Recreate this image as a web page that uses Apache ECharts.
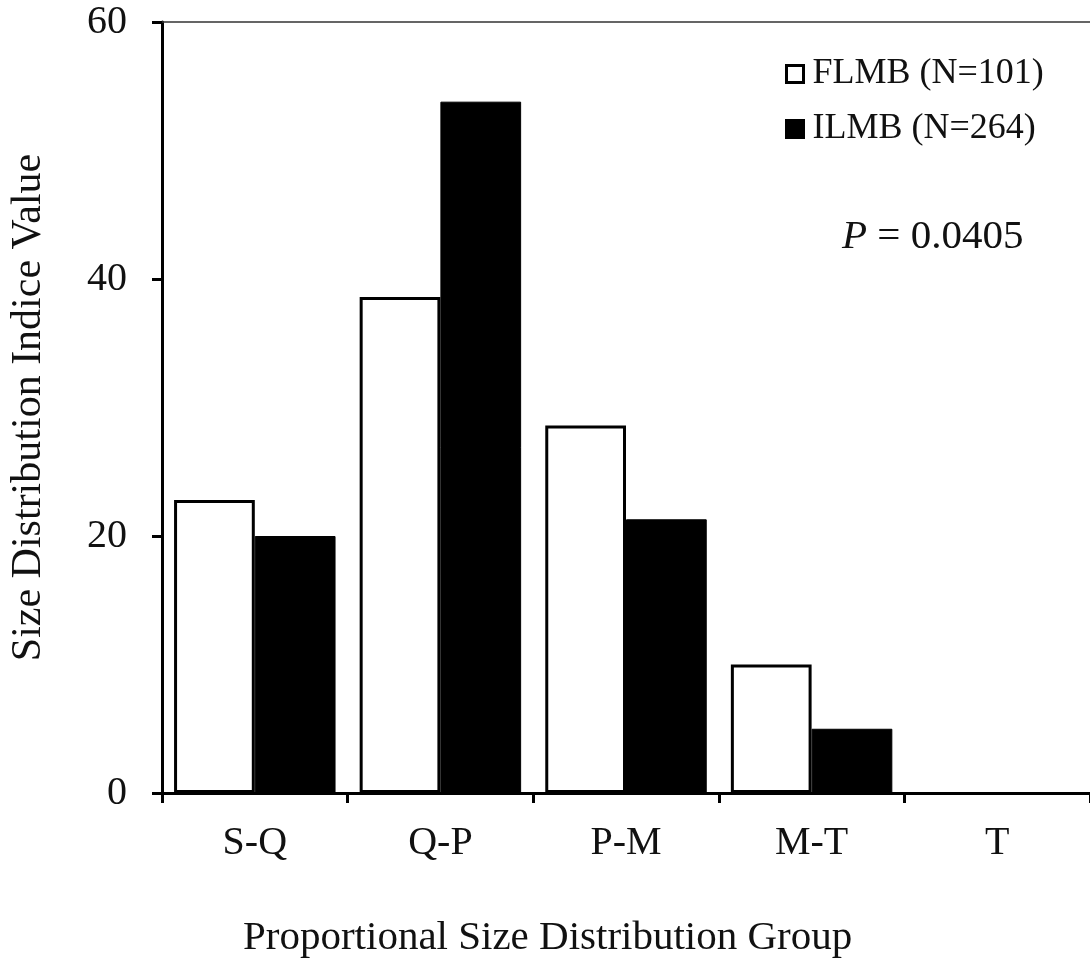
<!DOCTYPE html>
<html>
<head>
<meta charset="utf-8">
<script src="https://cdn.jsdelivr.net/npm/echarts@6/dist/echarts.min.js"></script>
<style>
  html, body { margin: 0; padding: 0; background: #fff; }
  #chart { width: 1090px; height: 966px; }
</style>
</head>
<body>
<div id="chart"></div>
<script>
// Proportional size distribution groups
const categories = ['S-Q', 'Q-P', 'P-M', 'M-T', 'T'];
// Size distribution indice values per group
const flmbValues = [22.8, 38.6, 28.6, 10.0, 0];
const ilmbValues = [20.0, 53.8, 21.3, 5.0, 0];
const seriesNames = ['FLMB (N=101)', 'ILMB (N=264)'];
const yTicks = { min: 0, max: 60, interval: 20 };
const pValueLabel = '0.0405';

const serif = "'Liberation Serif', 'Times New Roman', serif";
const ink = '#111';

// Empty groups get no outline so nothing is drawn on top of the axis line
function barItems(values) {
  return values.map(v => (v === 0 ? { value: v, itemStyle: { borderWidth: 0 } } : v));
}

const chart = echarts.init(document.getElementById('chart'), null, { renderer: 'canvas' });

chart.setOption({
  backgroundColor: '#fff',
  animation: false,
  grid: { left: 158, top: 22, right: -6, bottom: 173, containLabel: false },
  legend: {
    orient: 'vertical',
    left: 785,
    top: 56,
    padding: 0,
    itemWidth: 17,
    itemHeight: 17,
    itemGap: 19,
    icon: 'rect',
    textStyle: { fontFamily: serif, fontSize: 36, color: ink, padding: [0, 0, 0, 4] },
    data: [
      { name: seriesNames[0], itemStyle: { color: '#fff', borderColor: '#000', borderWidth: 3 } },
      { name: seriesNames[1], itemStyle: { color: '#000', borderColor: '#000', borderWidth: 3 } }
    ]
  },
  xAxis: [
    {
      type: 'category',
      data: categories,
      position: 'bottom',
      axisLine: { show: true, lineStyle: { color: '#000', width: 3 } },
      axisTick: { show: true, length: 10, inside: false, alignWithLabel: false, lineStyle: { color: '#000', width: 3 } },
      axisLabel: { fontFamily: serif, fontSize: 40, color: ink, margin: 30 },
      splitLine: { show: false }
    },
    {
      // thin frame line along the top of the plot
      type: 'category',
      data: categories,
      position: 'top',
      axisLine: { show: true, lineStyle: { color: '#333', width: 1.5 } },
      axisTick: { show: false },
      axisLabel: { show: false },
      splitLine: { show: false }
    }
  ],
  yAxis: {
    type: 'value',
    min: yTicks.min,
    max: yTicks.max,
    interval: yTicks.interval,
    name: 'Size Distribution Indice Value',
    nameLocation: 'middle',
    nameGap: 112,
    nameTextStyle: { fontFamily: serif, fontSize: 42, color: ink },
    axisLine: { show: true, lineStyle: { color: '#000', width: 3 } },
    axisTick: { show: true, length: 10, lineStyle: { color: '#000', width: 3 } },
    axisLabel: { fontFamily: serif, fontSize: 40, color: ink, margin: 35 },
    splitLine: { show: false }
  },
  graphic: [
    {
      type: 'text',
      left: 243,
      top: 918,
      style: {
        text: 'Proportional Size Distribution Group',
        fontFamily: serif,
        fontSize: 41,
        fill: ink
      }
    },
    {
      type: 'text',
      left: 842,
      top: 217,
      style: {
        text: '{i|P} = ' + pValueLabel,
        fontFamily: serif,
        fontSize: 41,
        fill: ink,
        rich: { i: { fontStyle: 'italic', fontFamily: serif, fontSize: 41, fill: ink } }
      }
    }
  ],
  series: [
    {
      name: seriesNames[0],
      type: 'bar',
      data: barItems(flmbValues),
      barGap: '0%',
      barCategoryGap: '13%',
      itemStyle: { color: '#fff', borderColor: '#000', borderWidth: 3 }
    },
    {
      name: seriesNames[1],
      type: 'bar',
      data: barItems(ilmbValues),
      barGap: '0%',
      barCategoryGap: '13%',
      itemStyle: { color: '#000', borderColor: '#000', borderWidth: 1 }
    }
  ]
});
</script>
</body>
</html>
